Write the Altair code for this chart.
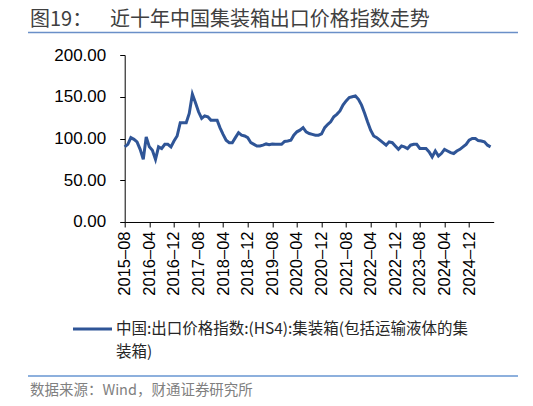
import altair as alt
import pandas as pd

# Monthly dates (categories)
months = pd.date_range("2015-08-01", periods=120, freq="MS").strftime("%Y-%m-%d").tolist()

# Index values
values = [
    90, 93, 101, 99, 96, 87, 75, 102, 90, 86,
    75, 90, 88, 93, 93, 90, 97, 103, 119, 119,
    119, 130, 153, 143, 132, 124, 127, 126, 122, 122,
    122, 113, 105, 98, 95, 95, 101, 107, 104, 103,
    101, 95, 93, 91, 91, 92, 93.5, 92.5, 93.5, 93,
    93, 93, 96.5, 97, 98, 104, 108, 110, 113, 108,
    106, 105, 104, 104, 105.5, 113, 117, 120, 126, 129,
    133, 140, 145, 149, 150, 151, 147, 140, 130, 120,
    110, 103, 101, 98, 95, 92, 96, 95, 91, 87,
    91, 90, 88, 92, 93, 93, 88, 88, 88, 84,
    78, 85, 79, 82, 87, 85, 83, 82, 85, 87,
    90, 93, 98, 100, 100, 97.5, 97, 96, 92, 90,
]

tick_labels = [(2015, 8), (2016, 4), (2016, 12), (2017, 8), (2018, 4), (2018, 12),
               (2019, 8), (2020, 4), (2020, 12), (2021, 8), (2022, 4), (2022, 12),
               (2023, 8), (2024, 4), (2024, 12)]
y_ticks = [0, 50, 100, 150, 200]

series_name_1 = "中国:出口价格指数:(HS4):集装箱(包括运输液体的集"
series_name_2 = "装箱)"
title_prefix = "图19："
title_main = "近十年中国集装箱出口价格指数走势"
source_text = "数据来源：Wind，财通证券研究所"

df = pd.DataFrame({"date": months, "value": values})

LINE_COLOR = "#2f5597"
CJK = "Noto Sans CJK SC"
LAT = "Liberation Sans"

x_enc = alt.X(
    "date:T",
    scale=alt.Scale(
        type="utc",
        domain=[alt.DateTime(year=2015, month=8, date=1, utc=True),
                alt.DateTime(year=2025, month=8, date=1, utc=True)],
    ),
    axis=alt.Axis(
        title=None,
        values=[alt.DateTime(year=y, month=m, date=1, utc=True) for y, m in tick_labels],
        labelExpr="utcFormat(datum.value, '%Y') + '–' + utcFormat(datum.value, '%m')",
        labelAngle=270,
        labelFontSize=16.5,
        labelFont=LAT,
        labelColor="#000000",
        labelPadding=4,
        tickSize=5,
        tickColor="#000000",
        domainColor="#000000",
        grid=False,
        labelOverlap=False,
    ),
)
y_enc = alt.Y(
    "value:Q",
    scale=alt.Scale(domain=[0, 200], nice=False),
    axis=alt.Axis(
        title=None,
        values=y_ticks,
        format=".2f",
        labelFontSize=17,
        labelFont=LAT,
        labelColor="#000000",
        labelPadding=14,
        tickSize=5,
        tickColor="#000000",
        domainColor="#000000",
        grid=False,
    ),
)

line = alt.Chart(df).mark_line(color=LINE_COLOR, strokeWidth=3).encode(x=x_enc, y=y_enc)


def txt(s, x, y, size, color, font=CJK):
    return alt.Chart(pd.DataFrame({"t": [s]})).mark_text(
        align="left", baseline="middle", fontSize=size, color=color, font=font
    ).encode(x=alt.value(x), y=alt.value(y), text="t:N")


def rule(x1, x2, y, color, w):
    return alt.Chart(pd.DataFrame({"a": [0]})).mark_rule(color=color, strokeWidth=w).encode(
        x=alt.value(x1), x2=alt.value(x2), y=alt.value(y)
    )


layers = [
    line,
    txt(title_prefix, -94.7, -35.5, 20, "#404040"),
    txt(title_main, -14.7, -35.5, 20, "#404040"),
    rule(-96.7, 393.3, -22.5, "#6a8fc8", 1.5),
    rule(-51.7, -12.7, 274, LINE_COLOR, 3),
    txt(series_name_1, -8.7, 274, 15.5, "#262626"),
    txt(series_name_2, -8.7, 297, 15.5, "#262626"),
    rule(-96.7, 393.3, 321, "#8db0dd", 2),
    txt(source_text, -94.7, 336, 14.5, "#808080"),
]

chart = alt.layer(*layers).properties(
    width=369,
    height=167,
    padding={"left": 116.7, "top": 47, "right": 30, "bottom": 176},
    autosize=alt.AutoSizeParams(type="none"),
).configure_view(stroke=None)

chart.save("out.html", embed_options={"renderer": "svg", "actions": False})
